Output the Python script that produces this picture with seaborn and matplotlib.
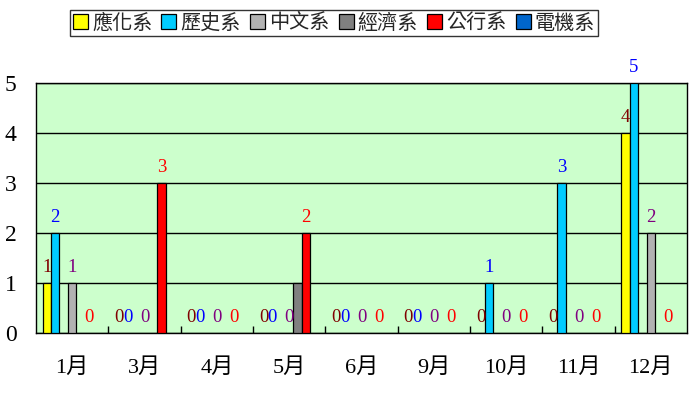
import matplotlib
matplotlib.use("Agg")
import matplotlib.pyplot as plt
import seaborn as sns
import pandas as pd
from matplotlib.patches import Patch
from matplotlib.ticker import MultipleLocator, FixedLocator

# ---- data ----
months = ['1月', '3月', '4月', '5月', '6月', '9月', '10月', '11月', '12月']
yinghua = [1, 0, 0, 0, 0, 0, 0, 0, 4]     # 應化系
lishi = [2, 0, 0, 0, 0, 0, 1, 3, 5]       # 歷史系
zhongwen = [1, 0, 0, 0, 0, 0, 0, 0, 2]    # 中文系
jingji = [0, 0, 0, 1, 0, 0, 0, 0, 0]      # 經濟系
gongxing = [0, 3, 0, 2, 0, 0, 0, 0, 0]    # 公行系
dianji = [0, 0, 0, 0, 0, 0, 0, 0, 0]      # 電機系
blank = [0, 0, 0, 0, 0, 0, 0, 0, 0]       # unnamed empty series slot

series_names = ['應化系', '歷史系', '中文系', '經濟系', '公行系', '電機系']
series_vals = [yinghua, lishi, zhongwen, jingji, gongxing, dianji]
series_colors = ['#FFFF00', '#00CCFF', '#B2B2B2', '#808080', '#FF0000', '#0066CC']
label_colors = ['#800000', '#0000FF', '#800080', None, '#FF0000', None]

# slot order within each month group (as drawn in the reference)
slot_order = ['應化系', '歷史系', ' ', '中文系', '經濟系', '公行系', '電機系']
slot_vals = {' ': blank}
slot_vals.update(dict(zip(series_names, series_vals)))
palette = dict(zip(series_names, series_colors))
palette[' '] = '#FFFFFF'
lab_col = dict(zip(series_names, label_colors))
lab_col[' '] = None

rows = []
for s in slot_order:
    for m, v in zip(months, slot_vals[s]):
        rows.append({'month': m, 'dept': s, 'value': v})
df = pd.DataFrame(rows)

# ---- figure ----
sns.set_theme(style='white')
serif_cjk = ['Liberation Serif', 'Noto Sans CJK TC']
plt.rcParams['font.family'] = serif_cjk

fig = plt.figure(figsize=(6.92, 3.94), dpi=100)
W, H = 692, 394
ax = fig.add_axes([36 / W, (H - 333) / H, (687 - 36) / W, (333 - 83) / H])
ax.set_facecolor('#CCFFCC')

sns.barplot(data=df, x='month', y='value', hue='dept', hue_order=slot_order,
            order=months, palette=palette, saturation=1, width=0.82, gap=0,
            edgecolor='black', linewidth=0.9, legend=False, ax=ax, zorder=3)

# data labels
for cont, s in zip(ax.containers, slot_order):
    col = lab_col[s]
    if col is None:
        for b in cont:
            if b.get_height() == 0:
                b.set_visible(False)
        continue
    for b in cont:
        h = b.get_height()
        if h == 0:
            b.set_visible(False)
        ax.annotate(f'{int(h)}', (b.get_x() + b.get_width() / 2, h),
                    xytext=(0, 5), textcoords='offset points',
                    ha='center', va='bottom', color=col, fontsize=13.5,
                    family='Liberation Serif', zorder=5)

ax.set_ylim(0, 5)
ax.set_xlim(-0.5, len(months) - 0.5)
ax.yaxis.set_major_locator(MultipleLocator(1))
ax.grid(axis='y', color='black', linewidth=1.0, zorder=1)
ax.set_axisbelow(True)
for sp in ax.spines.values():
    sp.set_color('black')
    sp.set_linewidth(1.0)
ax.spines['top'].set_visible(True)
ax.spines['right'].set_visible(True)

ax.set_xlabel('')
ax.set_ylabel('')
ax.tick_params(axis='y', length=0, pad=14, labelsize=17, colors='black')
ax.tick_params(axis='x', which='major', length=0, pad=18, labelsize=16, colors='black')
ax.xaxis.set_minor_locator(FixedLocator([i + 0.5 for i in range(len(months) - 1)]))
ax.tick_params(axis='x', which='minor', direction='in', length=5, width=1, color='black', bottom=True)
for t in ax.get_xticklabels() + ax.get_yticklabels():
    t.set_family(serif_cjk)

handles = [Patch(facecolor=c, edgecolor='black', linewidth=0.9) for c in series_colors]
leg = fig.legend(handles, series_names, loc='center', bbox_to_anchor=(334 / W, 1 - 23 / H),
                 ncol=6, frameon=True, fancybox=False, edgecolor='black',
                 prop={'family': 'Noto Sans CJK TC', 'size': 14.5},
                 handlelength=0.75, handleheight=0.75, handletextpad=0.2,
                 columnspacing=0.45, borderpad=0.12, borderaxespad=0)
leg.get_frame().set_linewidth(1.0)

fig.savefig('out.png', dpi=100, facecolor='white')
